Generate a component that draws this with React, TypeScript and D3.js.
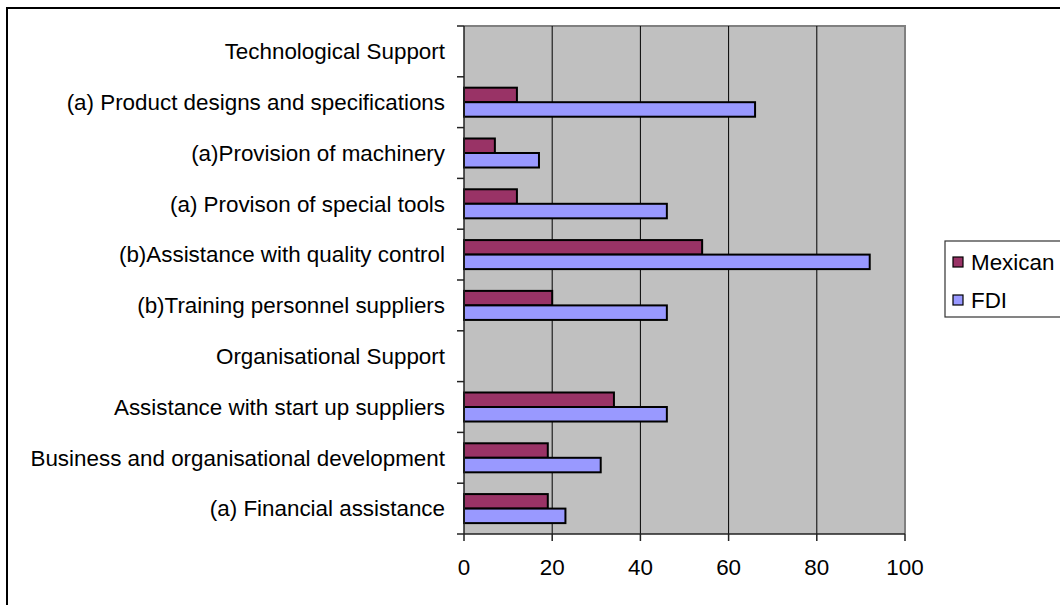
import React, { useRef, useEffect } from 'react';
import * as d3 from 'd3';

// categories, top to bottom
const categories = [
	'Technological Support',
	'(a) Product designs and specifications',
	'(a)Provision of machinery',
	'(a) Provison of special tools',
	'(b)Assistance with quality control',
	'(b)Training personnel suppliers',
	'Organisational Support',
	'Assistance with start up suppliers',
	'Business and organisational development',
	'(a) Financial assistance',
];

const seriesNames = ['Mexican', 'FDI'];
const seriesColors = ['#993366', '#9999FF'];

// null = heading row with no bars
const mexican: (number | null)[] = [null, 12, 7, 12, 54, 20, null, 34, 19, 19];
const fdi: (number | null)[] = [null, 66, 17, 46, 92, 46, null, 46, 31, 23];

const xTicks = [0, 20, 40, 60, 80, 100];

const App: React.FC = () => {
	const svgRef = useRef<SVGSVGElement | null>(null);

	useEffect(() => {
		if (!svgRef.current) return;
		const svg = d3.select(svgRef.current);
		svg.selectAll('*').remove();

		const font = '"Liberation Sans", Arial, sans-serif';
		const fontSize = 22.4;
		const plot = { left: 464, right: 905, top: 26, bottom: 534 };

		// outer chart frame (runs off the picture on the right and bottom)
		svg.append('rect')
			.attr('x', 7).attr('y', 8)
			.attr('width', 1100).attr('height', 650)
			.attr('fill', '#fff')
			.attr('stroke', '#000')
			.attr('stroke-width', 2);

		const x = d3.scaleLinear().domain([0, 100]).range([plot.left, plot.right]);
		const y = d3.scaleBand<string>().domain(categories).range([plot.top, plot.bottom]).padding(0);
		const band = y.bandwidth();
		const gap = band * 0.75 / 3.5;
		const ySub = d3.scaleBand<string>().domain(seriesNames).range([gap, band - gap]).padding(0);

		// plot area
		svg.append('rect')
			.attr('x', plot.left).attr('y', plot.top)
			.attr('width', plot.right - plot.left).attr('height', plot.bottom - plot.top)
			.attr('fill', '#c0c0c0');
		svg.append('path')
			.attr('d', `M${plot.left},${plot.top}H${plot.right}V${plot.bottom}`)
			.attr('fill', 'none')
			.attr('stroke', '#808080')
			.attr('stroke-width', 2);

		// gridlines
		svg.append('g')
			.selectAll('line')
			.data(xTicks.slice(1, -1))
			.join('line')
			.attr('x1', d => x(d)).attr('x2', d => x(d))
			.attr('y1', plot.top).attr('y2', plot.bottom)
			.attr('stroke', '#000')
			.attr('stroke-width', 1);

		// bars
		const rows = categories.map((c, i) => ({ c, vals: [mexican[i], fdi[i]] }));
		const g = svg.append('g');
		rows.forEach(r => {
			r.vals.forEach((v, j) => {
				if (v == null) return;
				g.append('rect')
					.attr('x', x(0))
					.attr('y', y(r.c)! + ySub(seriesNames[j])!)
					.attr('width', x(v) - x(0))
					.attr('height', ySub.bandwidth())
					.attr('fill', seriesColors[j])
					.attr('stroke', '#000')
					.attr('stroke-width', 2);
			});
		});

		// y axis
		const yAxis = svg.append('g').attr('stroke', '#222');
		yAxis.append('line')
			.attr('x1', plot.left).attr('x2', plot.left)
			.attr('y1', plot.top).attr('y2', plot.bottom)
			.attr('stroke-width', 1.5);
		const yTicks = categories.map(c => y(c)!).concat([plot.bottom]);
		yAxis.selectAll('line.t')
			.data(yTicks)
			.join('line')
			.attr('class', 't')
			.attr('x1', plot.left - 7).attr('x2', plot.left)
			.attr('y1', d => d).attr('y2', d => d)
			.attr('stroke-width', 1.5);
		svg.append('g')
			.selectAll('text')
			.data(categories)
			.join('text')
			.attr('x', 445)
			.attr('y', d => y(d)! + band / 2)
			.attr('dy', '0.35em')
			.attr('text-anchor', 'end')
			.attr('font-family', font)
			.attr('font-size', fontSize)
			.attr('fill', '#000')
			.text(d => d);

		// x axis
		const xAxis = svg.append('g').attr('stroke', '#222');
		xAxis.append('line')
			.attr('x1', plot.left).attr('x2', plot.right)
			.attr('y1', plot.bottom).attr('y2', plot.bottom)
			.attr('stroke-width', 1.5);
		xAxis.selectAll('line.t')
			.data(xTicks)
			.join('line')
			.attr('class', 't')
			.attr('x1', d => x(d)).attr('x2', d => x(d))
			.attr('y1', plot.bottom).attr('y2', plot.bottom + 7)
			.attr('stroke-width', 1.5);
		svg.append('g')
			.selectAll('text')
			.data(xTicks)
			.join('text')
			.attr('x', d => x(d))
			.attr('y', 575)
			.attr('text-anchor', 'middle')
			.attr('font-family', font)
			.attr('font-size', fontSize)
			.attr('fill', '#000')
			.text(d => d);

		// legend
		const legend = svg.append('g');
		legend.append('rect')
			.attr('x', 945).attr('y', 241)
			.attr('width', 200).attr('height', 76)
			.attr('fill', '#fff')
			.attr('stroke', '#333')
			.attr('stroke-width', 1.2);
		seriesNames.forEach((s, i) => {
			const cy = 262 + i * 38;
			legend.append('rect')
				.attr('x', 953).attr('y', cy - 5)
				.attr('width', 10).attr('height', 10)
				.attr('fill', seriesColors[i])
				.attr('stroke', '#000')
				.attr('stroke-width', 1.2);
			legend.append('text')
				.attr('x', 971).attr('y', cy)
				.attr('dy', '0.36em')
				.attr('font-family', font)
				.attr('font-size', fontSize)
				.attr('fill', '#000')
				.text(s);
		});
	}, []);

	return (
		<svg
			ref={svgRef}
			width={1060}
			height={605}
			style={{ position: 'absolute', left: 0, top: 0, display: 'block' }}
		/>
	);
};

export default App;
